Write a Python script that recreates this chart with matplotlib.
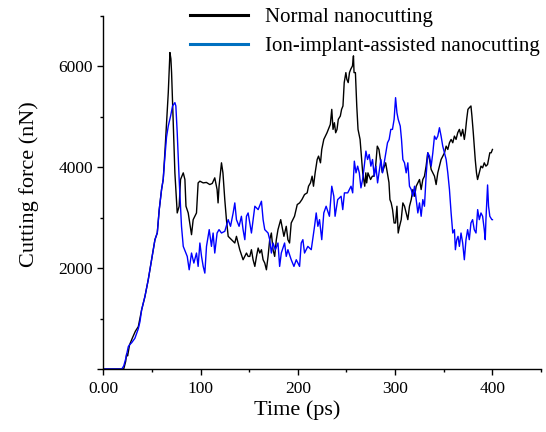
import matplotlib
matplotlib.use("Agg")
import matplotlib.pyplot as plt
from matplotlib.lines import Line2D
from matplotlib.ticker import FixedLocator

plt.rcParams['font.family'] = ['Liberation Serif', 'DejaVu Serif']

# Normal nanocutting (time in ps, force in nN)
normal_t = [0, 21, 23, 24, 25, 27, 30, 33, 36, 39.4, 42.8, 46.2, 47.9, 50.7, 53.1, 55.5, 57.5, 59.9,
            61.6, 63.3, 65, 66.8, 68.5, 69.5, 70.2, 71.9, 73.6, 76, 78, 79.4, 82.2, 83.9, 85, 87.3,
            90.7, 92.4, 95.8, 97.5, 99.3, 102.7, 106, 109.5, 112, 114.6, 117, 118, 119, 121.5, 123,
            124.9, 126.6, 128.4, 131.8, 135.2, 136.9, 140.3, 143.7, 147.2, 148.9, 150.6, 152.3, 154,
            155.8, 157.5, 159.2, 160.9, 162.6, 164.3, 166, 167.7, 169.4, 171.1, 172.8, 174.5, 176.2,
            177.9, 179.6, 182.4, 183.7, 185.7, 188.1, 189.8, 191.5, 193.2, 194.9, 196.6, 199.4, 201.8,
            204.2, 206.9, 209.6, 211, 213, 214.7, 216.1, 217.8, 219.9, 221.3, 223.3, 224.6, 226.7,
            228.4, 230, 231.4, 233.4, 234.9, 236.2, 237.6, 238.9, 240.3, 241.6, 243.7, 245, 246.4,
            247.7, 249.4, 250.4, 251.8, 253.1, 254.4, 256.2, 257.2, 257.8, 259.2, 260.6, 261.9, 264,
            265.4, 266.7, 268.3, 268.8, 269.9, 270.8, 272.1, 273.5, 274.8, 276.6, 278.2, 280, 281.7,
            283.4, 285.1, 286.8, 288.6, 290.3, 292, 293.7, 294.7, 296, 297.4, 299, 300.5, 301.9,
            303.2, 304.6, 306.3, 308, 309.7, 311.4, 313.1, 314.8, 316.6, 318.3, 320, 321.7, 323.4,
            325.1, 326.8, 328.5, 330.2, 331.9, 333.6, 335.4, 337.1, 338.8, 340.5, 342.2, 343.9,
            345.6, 347.3, 349, 350.8, 352.5, 354.2, 355.9, 357.6, 359.3, 361, 362.7, 364.4, 366.1,
            367.8, 369.5, 371.2, 372.2, 373.6, 374.9, 376.3, 378, 379, 380.4, 381.4, 382.4, 383.7,
            384.8, 386.6, 388.3, 390, 391.7, 393.4, 395.1, 396.1, 397.4, 398.8, 400.1]
normal_f = [0, 0, 150, 300, 260, 480, 620, 750, 841, 1173, 1438, 1770, 1968, 2300, 2565, 2700, 3160, 3560,
            3760, 4290, 4884, 5481, 6276, 6150, 5878, 4884, 3890, 3095, 3228, 3758, 3890, 3758, 3228, 3095,
            2664, 2962, 3095, 3691, 3725, 3691, 3700, 3658, 3680, 3791, 3559, 3294, 3620, 4089, 3890,
            3360, 2962, 2631, 2565, 2499, 2631, 2366, 2167, 2300, 2233, 2233, 2366, 2167,
            2035, 2233, 2399, 2300, 2366, 2167, 2101, 1968, 2233, 2565, 2697, 2366, 2233,
            2565, 2764, 2962, 2830, 2631, 2830, 2565, 2499, 2896, 2962, 3029, 3261, 3294,
            3360, 3460, 3493, 3625, 3691, 3824, 3625, 3890, 4155, 4222, 4089, 4354, 4553,
            4619, 4685, 4752, 4851, 5149, 4752, 4884, 4685, 4752, 4951, 5017, 5149, 5216,
            5680, 5878, 5746, 5680, 5878, 5945, 6011, 6210, 5878, 5878, 5216, 4752, 4553,
            4222, 3890, 3691, 3625, 3890, 3691, 3890, 3824, 3758, 3824, 3824, 4023, 4420,
            4354, 4120, 3900, 4000, 4089, 3900, 3700, 3360, 3294, 3161, 2896, 2896, 3228,
            2697, 2830, 2962, 3294, 3228, 3095, 2962, 3228, 3360, 3559, 3426, 3625, 3691,
            3758, 3559, 3758, 3824, 4023, 4288, 4155, 3957, 3890, 3824, 3658, 3890,
            4023, 4155, 4222, 4288, 4420, 4354, 4487, 4553, 4487, 4619, 4553, 4685, 4752,
            4619, 4752, 4553, 4685, 4951, 5149, 5182, 5216, 5017, 4685, 4420, 4155, 3890,
            3758, 3890, 4023, 3990, 4089, 4023, 4056, 4155, 4288, 4288, 4354]

# Ion-implant-assisted nanocutting
ion_t = [0, 19, 21, 23, 25.7, 27, 29.1, 32.5, 36, 37.7, 39.4, 42.8, 46.2, 47.9, 50.7, 53.1, 55.5, 57.5,
         59.9, 61.6, 63.3, 65, 66.8, 69.2, 71.2, 73.6, 74.6, 76, 78, 80.4, 82.2, 85, 86.3, 88.3, 90.7,
         93.1, 95.8, 97.5, 99.3, 101, 102.7, 104.4, 106.1, 108.9, 111.2, 112.9, 114.6, 117, 119,
         121.5, 124.9, 128.4, 130.8, 133.5, 135.2, 136.9, 139.6, 142, 143.7, 145.5, 147.2, 148.9,
         150.6, 152.3, 155.8, 159.2, 162.6, 164.3, 166, 169.4, 171.1, 172.8, 174.5, 176.9, 179.6,
         181.3, 183, 186.4, 188.1, 189.8, 193.2, 196, 198.4, 201.8, 203.5, 205.2, 206.9, 210.3,
         213.8, 217.2, 218.9, 220.6, 222.3, 224.6, 226.7, 229.1, 232.5, 234.9, 237, 238.3, 241,
         244.5, 246.2, 247.9, 251.3, 254.7, 256.4, 258.1, 259.8, 261.5, 263.2, 264.9, 266.6,
         268.3, 270, 271.7, 273.4, 275.1, 276.8, 278.6, 280.3, 282, 283.7, 285.4, 287.1, 288.8,
         290.5, 292.2, 293.9, 295.6, 297.3, 299, 300.5, 301.9, 303.2, 305.3, 306.6, 308, 309.7,
         311.4, 313.1, 314.8, 316.6, 318.3, 320, 321.7, 323.4, 325.1, 326.8, 328.5, 330.2, 331.9,
         333.6, 335.4, 337.1, 338.8, 340.5, 342.2, 343.9, 345.6, 347.3, 349, 350.8, 352.5, 354.2,
         355.9, 357.6, 359.3, 361, 362, 363.4, 364.7, 366.1, 367.8, 369.5, 371.2, 372.9, 374.6,
         376.3, 378, 379.7, 381.4, 383.2, 384.9, 386.6, 388.3, 390, 391.7, 392.7, 393.4, 394.1,
         395.1, 396.1, 397.4, 399.5, 400.1]
ion_f = [0, 0, 60, 200, 443, 480, 520, 610, 800, 940, 1173, 1438, 1770, 1968, 2300, 2565, 2700, 3160,
         3560, 3760, 4200, 4600, 4818, 5017, 5216, 5282, 5216, 4685, 3758, 2830, 2432, 2300, 2233, 1968, 2300,
         2101, 2300, 2035, 2499, 2233, 2035, 1902, 2432, 2764, 2432, 2697, 2300, 2697, 2764,
         2697, 2731, 2962, 2830, 3095, 3294, 2962, 2830, 3029, 2764, 2565, 3029, 3095,
         2900, 2697, 3228, 3161, 3327, 2962, 2764, 2697, 2565, 2300, 2499, 2366, 2499,
         2035, 2300, 2499, 2233, 2366, 2167, 2035, 2167, 2035, 2499, 2565, 2300, 2432,
         2366, 2830, 3095, 2830, 2962, 2565, 3095, 3228, 3029, 3625, 3426, 3029, 3360,
         3426, 3161, 3493, 3493, 3625, 3493, 4122, 3890, 4023, 3890, 3592, 3758,
         4023, 4321, 4155, 4255, 4023, 4155, 3824, 4023, 3691, 3923, 4155, 3890, 4089,
         4288, 4487, 4553, 4752, 4752, 4951, 5381, 5083, 4951, 4818, 4553, 4155, 4089,
         3890, 4089, 3625, 3559, 3426, 3625, 3360, 3095, 3294, 3029, 3360, 3228, 3824,
         4288, 4222, 4023, 4288, 4619, 4553, 4619, 4785, 4619, 4420, 4288, 4155, 3890,
         3559, 3095, 2697, 2764, 2366, 2565, 2631, 2432, 2697, 2499, 2167, 2565, 2764,
         2565, 2896, 2962, 2764, 2697, 3161, 2962, 3095, 3029, 2764, 2565, 2962, 3228,
         3650, 3228, 3029, 2962, 2962]

series_labels = ["Normal nanocutting", "Ion-implant-assisted nanocutting"]
x_ticks = [0, 100, 200, 300, 400]
x_tick_labels = ["0.00", "100", "200", "300", "400"]
y_ticks = [0, 2000, 4000, 6000]
y_tick_labels = ["", "2000", "4000", "6000"]

fig = plt.figure(figsize=(5.46, 4.32), dpi=100)
ax = fig.add_axes([0.1892, 0.1458, 0.8016, 0.8171])

ax.plot(normal_t, normal_f, color="black", lw=1.0)
ax.plot(ion_t, ion_f, color="#0000ff", lw=1.0)

ax.set_xlim(0, 450)
ax.set_ylim(0, 7000)
ax.set_xticks(x_ticks)
ax.set_xticklabels(x_tick_labels)
ax.set_yticks(y_ticks)
ax.set_yticklabels(y_tick_labels)
ax.xaxis.set_minor_locator(FixedLocator([50, 150, 250, 350, 450]))
ax.yaxis.set_minor_locator(FixedLocator([1000, 3000, 5000, 7000]))

for s in ["top", "right"]:
    ax.spines[s].set_visible(False)
for s in ["left", "bottom"]:
    ax.spines[s].set_linewidth(1.0)

ax.tick_params(which="major", direction="out", length=4.3, width=1.0, labelsize=12.5, pad=3)
ax.tick_params(which="minor", direction="out", length=2.4, width=1.0)
ax.tick_params(axis="x", which="major", pad=4)

ax.set_xlabel("Time (ps)", fontsize=16)
ax.set_ylabel("Cutting force (nN)", fontsize=16)
ax.xaxis.set_label_coords(0.4425, -0.088)
ax.yaxis.set_label_coords(-0.147, 0.525)

handles = [Line2D([], [], color="black", lw=2.2), Line2D([], [], color="#0070c0", lw=2.2)]
ax.legend(handles, series_labels, loc="upper left", bbox_to_anchor=(0.348, 0.983),
          bbox_transform=fig.transFigure, frameon=False, borderpad=0, borderaxespad=0,
          handlelength=2.8, handletextpad=0.8, labelspacing=0.45, fontsize=15)

fig.savefig("out.png", dpi=100)
